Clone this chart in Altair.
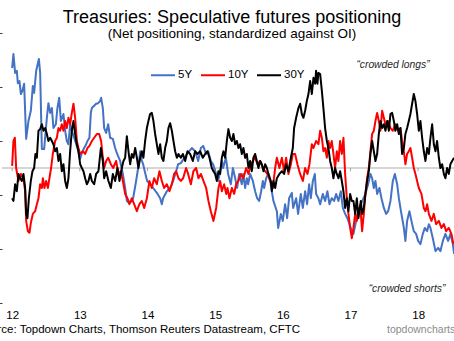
import altair as alt
import pandas as pd

SERIES = ["5Y", "10Y", "30Y"]
COLORS = ["#4472C4", "#FF0000", "#000000"]
YEAR_TICKS = [2012, 2013, 2014, 2015, 2016, 2017, 2018]
Y_TICKS = [-2.5, -2.0, -1.5, -1.0, -0.5, 0.0, 0.5, 1.0, 1.5, 2.0, 2.5]

TITLE = "Treasuries: Speculative futures positioning"
SUBTITLE = "(Net positioning, standardized against OI)"
NOTE_LONG = "\u201ccrowded  longs\u201d"
NOTE_SHORT = "\u201ccrowded  shorts\u201d"
SOURCE = "Source: Topdown Charts, Thomson Reuters Datastream, CFTC"
BRAND = "topdowncharts.com"

# ---------------- 5Y ----------------
DATES_5Y = [
    2012.000, 2012.019, 2012.044, 2012.069, 2012.084, 2012.108, 2012.129, 2012.152, 2012.177, 2012.207,
    2012.241, 2012.276, 2012.306, 2012.325, 2012.355, 2012.395, 2012.414, 2012.439, 2012.473, 2012.513,
    2012.536, 2012.562, 2012.587, 2012.610, 2012.646, 2012.669, 2012.695, 2012.720, 2012.758, 2012.788,
    2012.808, 2012.832, 2012.857, 2012.882, 2012.916, 2012.965, 2013.005, 2013.030, 2013.064, 2013.094,
    2013.113, 2013.142, 2013.163, 2013.178, 2013.241, 2013.271, 2013.300, 2013.315, 2013.340, 2013.360,
    2013.389, 2013.419, 2013.448, 2013.488, 2013.522, 2013.552, 2013.596, 2013.636, 2013.670, 2013.695,
    2013.729, 2013.769, 2013.788, 2013.832, 2013.862, 2013.892, 2013.917, 2013.936, 2013.965, 2013.995,
    2014.039, 2014.084, 2014.138, 2014.187, 2014.212, 2014.231, 2014.286, 2014.335, 2014.379, 2014.424,
    2014.453, 2014.493, 2014.582, 2014.656, 2014.704, 2014.749, 2014.789, 2014.823, 2014.867, 2014.897,
    2014.936, 2014.970, 2015.015, 2015.044, 2015.074, 2015.099, 2015.118, 2015.158, 2015.192, 2015.232,
    2015.262, 2015.296, 2015.325, 2015.355, 2015.394, 2015.414, 2015.443, 2015.468, 2015.488, 2015.517,
    2015.557, 2015.591, 2015.621, 2015.650, 2015.680, 2015.705, 2015.724, 2015.754, 2015.783, 2015.813,
    2015.861, 2015.912, 2015.931, 2015.971, 2016.000, 2016.034, 2016.064, 2016.093, 2016.133, 2016.153,
    2016.197, 2016.226, 2016.266, 2016.296, 2016.330, 2016.359, 2016.389, 2016.414, 2016.444, 2016.473,
    2016.492, 2016.526, 2016.552, 2016.591, 2016.625, 2016.659, 2016.689, 2016.724, 2016.758, 2016.788,
    2016.822, 2016.857, 2016.887, 2016.921, 2016.955, 2016.985, 2017.020, 2017.044, 2017.084, 2017.118,
    2017.153, 2017.221, 2017.261, 2017.295, 2017.320, 2017.345, 2017.369, 2017.394, 2017.428, 2017.458,
    2017.493, 2017.527, 2017.557, 2017.591, 2017.626, 2017.656, 2017.690, 2017.715, 2017.753, 2017.789,
    2017.812, 2017.837, 2017.871, 2017.901, 2017.936, 2017.970, 2018.000, 2018.034, 2018.069, 2018.099,
    2018.133, 2018.158, 2018.182, 2018.217, 2018.256, 2018.296, 2018.329, 2018.365, 2018.403, 2018.443,
    2018.477, 2018.513, 2018.532,
]
VALUES_5Y = [
    1.85, 2.11, 1.76, 1.80, 1.57, 1.61, 1.37, 1.43, 1.56, 0.54,
    0.87, 1.06, 1.52, 1.39, 1.80, 2.02, 1.76, 0.35, 0.35, 0.93,
    1.20, 1.02, 1.11, 0.74, 0.81, 1.11, 1.30, 0.87, 1.00, 0.65,
    0.50, 0.44, 0.81, 0.69, 0.56, 0.37, 0.17, 0.28, 0.37, 0.44,
    0.50, 0.56, 1.02, 1.11, 1.19, 1.20, 1.24, 1.30, 1.11, 0.74,
    0.65, 0.81, 0.56, 0.54, 0.37, 0.26, 0.13, -0.11, -0.37, -0.61,
    -0.65, -0.61, -0.56, -0.24, 0.00, 0.31, 0.13, 0.07, -0.09, -0.24,
    -0.30, -0.37, -0.46, -0.56, -0.67, -0.56, -0.43, -0.37, -0.24, -0.06,
    0.07, 0.09, 0.26, 0.37, 0.31, 0.13, 0.37, 0.41, 0.26, 0.31,
    0.13, 0.07, -0.11, -0.24, -0.06, 0.13, 0.00, 0.19, -0.11, -0.30,
    0.00, -0.19, -0.37, -0.11, -0.30, -0.11, -0.37, -0.19, -0.30, -0.11,
    -0.24, -0.43, -0.56, -0.61, -0.43, -0.24, -0.37, -0.19, -0.11, -0.24,
    -0.61, -0.80, -1.11, -0.85, -0.98, -0.67, -0.93, -0.56, -0.46, -0.74,
    -0.56, -0.85, -0.48, -0.74, -0.43, -0.67, -0.30, -0.56, -0.24, -0.11,
    -0.48, -0.56, -0.67, -0.48, -0.61, -0.43, -0.67, -0.56, -0.61, -0.48,
    -0.61, -0.43, -0.74, -0.85, -0.93, -1.04, -1.17, -1.22, -0.98, -0.80,
    -0.67, -0.48, -0.30, -0.11, -0.19, -0.37, -0.24, -0.48, -0.37, -0.56,
    -0.74, -0.85, -0.80, -0.61, -0.24, -0.11, -0.30, -0.56, -0.85, -1.11,
    -1.35, -0.98, -0.80, -0.98, -1.17, -1.22, -1.35, -1.41, -1.22, -1.11,
    -1.17, -1.04, -1.11, -1.30, -1.54, -1.48, -1.54, -1.35, -1.22, -1.35,
    -1.22, -1.41, -1.59,
]

# ---------------- 10Y ----------------
DATES_10Y = [
    2012.000, 2012.019, 2012.040, 2012.059, 2012.093, 2012.129, 2012.167, 2012.192, 2012.207, 2012.232,
    2012.256, 2012.276, 2012.306, 2012.340, 2012.365, 2012.389, 2012.414, 2012.439, 2012.454, 2012.477,
    2012.502, 2012.528, 2012.551, 2012.576, 2012.601, 2012.635, 2012.661, 2012.684, 2012.709, 2012.734,
    2012.758, 2012.783, 2012.808, 2012.832, 2012.857, 2012.882, 2012.906, 2012.931, 2012.956, 2012.980,
    2013.005, 2013.045, 2013.079, 2013.113, 2013.142, 2013.178, 2013.212, 2013.252, 2013.286, 2013.315,
    2013.340, 2013.360, 2013.389, 2013.419, 2013.459, 2013.493, 2013.537, 2013.571, 2013.606, 2013.636,
    2013.670, 2013.704, 2013.733, 2013.769, 2013.803, 2013.843, 2013.881, 2013.917, 2013.951, 2013.991,
    2014.029, 2014.064, 2014.098, 2014.138, 2014.177, 2014.212, 2014.246, 2014.286, 2014.325, 2014.360,
    2014.394, 2014.424, 2014.458, 2014.493, 2014.527, 2014.571, 2014.601, 2014.641, 2014.679, 2014.719,
    2014.753, 2014.789, 2014.827, 2014.867, 2014.901, 2014.936, 2014.975, 2015.015, 2015.049, 2015.074,
    2015.099, 2015.133, 2015.163, 2015.182, 2015.211, 2015.247, 2015.281, 2015.310, 2015.344, 2015.380,
    2015.418, 2015.458, 2015.492, 2015.527, 2015.557, 2015.591, 2015.625, 2015.665, 2015.705, 2015.739,
    2015.773, 2015.813, 2015.853, 2015.887, 2015.912, 2015.950, 2015.986, 2016.020, 2016.049, 2016.083,
    2016.119, 2016.148, 2016.182, 2016.216, 2016.256, 2016.296, 2016.330, 2016.364, 2016.394, 2016.429,
    2016.453, 2016.492, 2016.526, 2016.552, 2016.577, 2016.600, 2016.625, 2016.651, 2016.674, 2016.699,
    2016.724, 2016.748, 2016.773, 2016.798, 2016.822, 2016.847, 2016.872, 2016.896, 2016.921, 2016.946,
    2016.970, 2016.995, 2017.020, 2017.044, 2017.069, 2017.094, 2017.118, 2017.153, 2017.172, 2017.197,
    2017.221, 2017.246, 2017.271, 2017.295, 2017.320, 2017.345, 2017.369, 2017.394, 2017.419, 2017.443,
    2017.468, 2017.493, 2017.517, 2017.557, 2017.591, 2017.626, 2017.664, 2017.704, 2017.738, 2017.763,
    2017.789, 2017.812, 2017.837, 2017.862, 2017.886, 2017.911, 2017.936, 2017.960, 2017.985, 2018.010,
    2018.049, 2018.084, 2018.108, 2018.133, 2018.158, 2018.197, 2018.232, 2018.266, 2018.306, 2018.344,
    2018.380, 2018.414, 2018.453, 2018.492, 2018.521,
]
VALUES_10Y = [
    0.04, 0.50, 0.56, 0.00, -0.24, -0.11, -0.19, -0.43, -0.98, -1.17,
    -1.20, -1.02, -0.85, -0.80, -0.67, -0.56, -0.30, -0.37, -0.19, -0.37,
    -0.24, -0.37, -0.19, 0.00, 0.26, 0.50, 0.56, 0.74, 0.69, 0.81,
    0.69, 0.87, 0.74, 0.93, 0.81, 1.02, 1.19, 0.93, 0.50, 0.37,
    0.26, 0.31, 0.26, 0.37, 0.41, 0.50, 0.56, 0.63, 0.63, 0.50,
    0.19, 0.00, 0.13, 0.19, 0.07, 0.00, 0.13, -0.11, -0.06, -0.24,
    -0.48, -0.56, -0.67, -0.56, -0.67, -0.80, -0.67, -0.61, -0.74, -0.56,
    -0.24, -0.37, -0.19, -0.30, -0.06, -0.24, -0.37, -0.30, -0.43, -0.30,
    -0.11, -0.06, -0.19, -0.24, -0.19, 0.00, -0.11, -0.30, -0.06, 0.00,
    -0.19, -0.11, -0.24, -0.37, -0.61, -0.80, -0.98, -0.74, -0.37, -0.24,
    -0.43, -0.30, -0.48, -0.37, -0.56, -0.37, -0.48, -0.30, -0.24, -0.11,
    -0.19, 0.00, -0.11, 0.07, 0.13, 0.19, 0.07, 0.13, 0.00, -0.06,
    -0.11, -0.24, -0.37, 0.00, 0.19, 0.00, 0.19, -0.06, 0.19, -0.11,
    0.07, 0.26, 0.26, 0.07, -0.11, -0.24, 0.00, -0.11, 0.07, 0.44,
    0.37, 0.50, 0.44, 0.69, 0.56, 0.31, 0.37, 0.19, 0.50, 0.37,
    0.50, 0.26, 0.00, 0.31, 0.13, 0.50, 0.26, 0.56, -0.11, -0.56,
    -0.85, -1.11, -1.30, -1.11, -0.85, -0.98, -0.74, -0.85, -1.17, -0.85,
    -0.48, -0.19, 0.00, 0.31, 0.63, 0.69, 0.87, 1.02, 0.87, 0.69,
    1.06, 0.93, 0.81, 0.87, 0.74, 0.69, 0.81, 0.69, 0.74, 0.50,
    0.31, 0.07, 0.26, 0.31, 0.37, 0.19, 0.00, -0.11, -0.24, -0.37,
    -0.48, -0.74, -0.80, -0.67, -0.85, -0.98, -0.85, -1.04, -0.98, -1.11,
    -1.04, -1.17, -1.11, -1.22, -1.41,
]

# ---------------- 30Y ----------------
DATES_30Y = [
    2012.000, 2012.019, 2012.044, 2012.069, 2012.093, 2012.118, 2012.143, 2012.167, 2012.192, 2012.207,
    2012.226, 2012.247, 2012.276, 2012.300, 2012.325, 2012.344, 2012.365, 2012.389, 2012.414, 2012.439,
    2012.463, 2012.488, 2012.513, 2012.536, 2012.562, 2012.587, 2012.610, 2012.635, 2012.661, 2012.684,
    2012.709, 2012.734, 2012.758, 2012.783, 2012.808, 2012.832, 2012.857, 2012.882, 2012.906, 2012.931,
    2012.956, 2012.980, 2013.005, 2013.030, 2013.054, 2013.079, 2013.104, 2013.128, 2013.153, 2013.178,
    2013.212, 2013.241, 2013.275, 2013.311, 2013.340, 2013.360, 2013.389, 2013.423, 2013.459, 2013.488,
    2013.522, 2013.556, 2013.586, 2013.621, 2013.645, 2013.670, 2013.695, 2013.719, 2013.744, 2013.769,
    2013.793, 2013.818, 2013.843, 2013.866, 2013.892, 2013.917, 2013.940, 2013.965, 2013.991, 2014.014,
    2014.039, 2014.064, 2014.088, 2014.113, 2014.138, 2014.162, 2014.187, 2014.212, 2014.236, 2014.261,
    2014.286, 2014.310, 2014.335, 2014.360, 2014.384, 2014.409, 2014.434, 2014.458, 2014.493, 2014.523,
    2014.557, 2014.591, 2014.630, 2014.670, 2014.704, 2014.738, 2014.778, 2014.818, 2014.852, 2014.886,
    2014.916, 2014.951, 2014.975, 2015.000, 2015.025, 2015.049, 2015.074, 2015.099, 2015.123, 2015.148,
    2015.173, 2015.196, 2015.222, 2015.247, 2015.270, 2015.296, 2015.321, 2015.344, 2015.369, 2015.394,
    2015.418, 2015.443, 2015.468, 2015.492, 2015.517, 2015.542, 2015.566, 2015.591, 2015.616, 2015.640,
    2015.665, 2015.690, 2015.714, 2015.739, 2015.764, 2015.788, 2015.823, 2015.838, 2015.861, 2015.887,
    2015.912, 2015.950, 2015.986, 2016.020, 2016.049, 2016.083, 2016.119, 2016.148, 2016.167, 2016.197,
    2016.231, 2016.256, 2016.281, 2016.305, 2016.330, 2016.355, 2016.379, 2016.404, 2016.429, 2016.453,
    2016.478, 2016.492, 2016.512, 2016.526, 2016.552, 2016.577, 2016.600, 2016.625, 2016.651, 2016.674,
    2016.699, 2016.724, 2016.748, 2016.773, 2016.798, 2016.822, 2016.847, 2016.872, 2016.896, 2016.921,
    2016.946, 2016.970, 2016.995, 2017.020, 2017.044, 2017.069, 2017.094, 2017.118, 2017.153, 2017.172,
    2017.197, 2017.221, 2017.246, 2017.271, 2017.295, 2017.320, 2017.345, 2017.369, 2017.394, 2017.419,
    2017.443, 2017.468, 2017.493, 2017.517, 2017.542, 2017.567, 2017.591, 2017.616, 2017.641, 2017.664,
    2017.690, 2017.715, 2017.738, 2017.763, 2017.789, 2017.812, 2017.837, 2017.862, 2017.886, 2017.911,
    2017.936, 2017.960, 2017.985, 2018.010, 2018.034, 2018.059, 2018.084, 2018.108, 2018.133, 2018.158,
    2018.182, 2018.207, 2018.232, 2018.256, 2018.280, 2018.306, 2018.329, 2018.355, 2018.380, 2018.403,
    2018.428, 2018.453, 2018.477, 2018.502, 2018.532,
]
VALUES_30Y = [
    -0.56, -0.61, -0.30, -0.43, -0.11, -0.19, -0.24, -0.11, -0.37, -0.85,
    -0.93, -0.56, -0.24, -0.06, 0.00, 0.26, 0.19, 0.69, 0.72, 0.81,
    0.69, 0.74, 0.63, 0.50, 0.56, 0.50, 0.44, 0.31, 0.37, 0.13,
    0.26, -0.06, 0.07, -0.24, -0.37, -0.19, 0.31, 0.69, 0.87, 0.63,
    0.44, 0.31, 0.07, 0.00, -0.06, -0.19, -0.30, -0.24, -0.11, -0.24,
    -0.30, -0.11, -0.06, 0.37, 0.13, -0.19, -0.06, -0.24, -0.37, -0.11,
    -0.24, 0.00, -0.24, 0.00, 0.13, 0.19, 0.59, 0.31, 0.07, 0.26,
    0.19, 0.37, 0.19, 0.00, 0.19, 0.31, 0.19, 0.50, 0.74, 0.87,
    1.00, 1.02, 0.87, 0.63, 0.44, 0.26, 0.44, 0.19, 0.13, 0.37,
    0.50, 0.74, 0.83, 0.69, 0.50, 0.31, 0.19, 0.26, 0.19, 0.26,
    0.13, 0.31, 0.26, 0.13, 0.31, 0.26, 0.31, 0.19, 0.26, 0.31,
    0.19, 0.00, -0.06, -0.11, -0.24, -0.06, -0.11, 0.19, 0.31, 0.19,
    0.50, 0.72, 0.56, 0.50, 0.63, 0.44, 0.50, 0.37, 0.44, 0.26,
    0.37, 0.19, 0.26, 0.00, 0.13, -0.06, 0.19, 0.26, 0.13, 0.00,
    0.13, 0.07, -0.06, 0.07, 0.00, -0.11, -0.24, -0.43, -0.24, -0.37,
    -0.19, -0.11, -0.06, -0.11, 0.07, -0.06, 0.19, 0.37, 0.74, 0.93,
    1.11, 1.19, 1.00, 0.93, 1.06, 1.24, 1.37, 1.61, 1.37, 1.67,
    1.56, 1.80, 1.56, 1.76, 1.74, 1.43, 1.11, 0.74, 0.50, 0.37,
    0.13, 0.00, -0.19, 0.00, -0.11, -0.19, -0.06, -0.24, -0.43, -0.74,
    -0.56, -0.80, -0.48, -0.61, -0.61, -0.85, -0.56, -0.93, -0.61, -0.85,
    -0.74, -0.48, -0.24, -0.06, 0.26, 0.50, 0.31, 0.13, 0.26, 0.63,
    0.87, 0.74, 0.81, 0.69, 0.87, 0.69, 1.00, 1.02, 0.87, 0.69,
    0.81, 0.63, 0.74, 0.26, 0.37, 0.63, 0.74, 0.87, 1.00, 1.19,
    1.37, 1.24, 1.00, 0.69, 0.87, 0.56, 0.31, 0.13, 0.37, 0.26,
    0.56, 0.81, 0.44, 0.31, 0.50, 0.19, 0.00, 0.07, -0.11, -0.19,
    0.00, -0.11, 0.07, 0.13, 0.19,
]

assert len(DATES_5Y) == len(VALUES_5Y)
assert len(DATES_10Y) == len(VALUES_10Y)
assert len(DATES_30Y) == len(VALUES_30Y)

rows = []
for name, dates, values in [("5Y", DATES_5Y, VALUES_5Y),
                            ("10Y", DATES_10Y, VALUES_10Y),
                            ("30Y", DATES_30Y, VALUES_30Y)]:
    for d, v in zip(dates, values):
        rows.append({"series": name, "date": d, "value": v})
df = pd.DataFrame(rows)

FONT = "Liberation Sans"
x_scale = alt.Scale(domain=[2011.85, 2018.53], nice=False, zero=False)
y_scale = alt.Scale(domain=[-2.5, 2.5], nice=False, zero=False)
color_scale = alt.Scale(domain=SERIES, range=COLORS)

x_axis = alt.Axis(values=YEAR_TICKS, labelExpr="'' + (datum.value - 2000)",
                  domain=False, ticks=False, tickSize=0, grid=False, title=None,
                  labelFont=FONT, labelFontSize=11.5, labelColor="#000000",
                  labelPadding=6)
y_axis = alt.Axis(values=Y_TICKS, domain=False, grid=False, labels=False, title=None,
                  ticks=True, tickSize=3, tickColor="#404040", tickWidth=1)

zero_line = alt.Chart(pd.DataFrame({"v": [0.0]})).mark_rule(
    color="#C8C8C8", strokeWidth=1.5
).encode(y=alt.Y("v:Q", scale=y_scale, axis=y_axis))

year_ticks = alt.Chart(pd.DataFrame({"year": YEAR_TICKS, "y0": [0.0] * 7, "y1": [-0.06] * 7})).mark_rule(
    color="#A6A6A6", strokeWidth=1
).encode(
    x=alt.X("year:Q", scale=x_scale, axis=x_axis),
    y=alt.Y("y0:Q", scale=y_scale),
    y2="y1:Q",
)

legend = alt.Legend(orient="none", legendX=148, legendY=29, direction="horizontal",
                    title=None, symbolType="stroke", symbolSize=576, symbolStrokeWidth=2,
                    labelFont=FONT, labelFontSize=11.5, labelColor="#000000",
                    labelOffset=2, columnPadding=4, padding=0)

lines = []
for s in SERIES:
    lines.append(
        alt.Chart(df).transform_filter(alt.datum.series == s).mark_line(
            strokeWidth=2, clip=True, strokeJoin="round"
        ).encode(
            x=alt.X("date:Q", scale=x_scale),
            y=alt.Y("value:Q", scale=y_scale),
            color=alt.Color("series:N", scale=color_scale, legend=legend, sort=SERIES),
        )
    )


def label(txt, x, y, size, align="center", color="#000000", style="normal", baseline="alphabetic"):
    return alt.Chart(pd.DataFrame({"t": [txt]})).mark_text(
        font=FONT, fontSize=size, align=align, baseline=baseline, color=color, fontStyle=style
    ).encode(x=alt.value(x), y=alt.value(y), text="t:N")


texts = [
    label(TITLE, 230, -10, 18),
    label(SUBTITLE, 230, 5, 13.5),
    label(NOTE_LONG, 391, 35, 10.3, color="#262626", style="italic"),
    label(NOTE_SHORT, 405, 259, 10.3, color="#262626", style="italic"),
    label(SOURCE, 298, 300, 11.5, align="right"),
    label(BRAND, 385, 300, 10.5, align="left", color="#8C8C8C"),
]

chart = alt.layer(zero_line, year_ticks, *lines, *texts).properties(
    width=452, height=270,
    autosize=alt.AutoSizeParams(type="none"),
    padding={"left": 2, "top": 33, "right": 0, "bottom": 38},
    background="#FFFFFF",
).configure_view(stroke=None)

chart.save("out.html", embed_options={"renderer": "svg", "actions": False})
